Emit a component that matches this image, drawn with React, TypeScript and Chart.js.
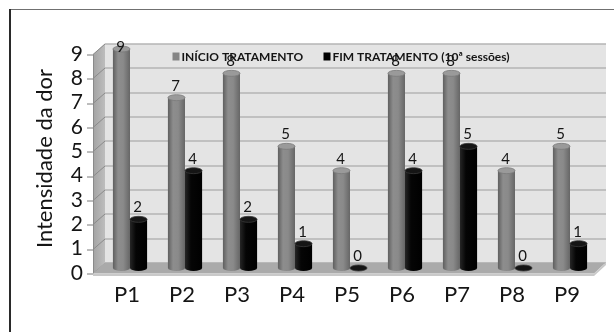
import React, { useEffect, useRef } from "react";
import { Chart, registerables } from "chart.js";

Chart.register(...registerables);

// Pain scores per patient, before and after treatment
const categories = ["P1", "P2", "P3", "P4", "P5", "P6", "P7", "P8", "P9"];
const inicioTratamento = [9, 7, 8, 5, 4, 8, 8, 4, 5];
const fimTratamento = [2, 4, 2, 1, 0, 4, 5, 0, 1];
const seriesNames = ["INÍCIO TRATAMENTO", "FIM TRATAMENTO (10ª sessões)"];
const yMin = 0;
const yMax = 9;

const FONT = "Lato, 'Open Sans', sans-serif";
const TEXT = "#151515";

// half of the pseudo-3D depth vector (front -> back)
const DX = 6;
const DY = 5.5;

const wallPlugin = {
  id: "wall3d",
  beforeDraw(chart: any) {
    const { ctx, width, height } = chart;
    ctx.save();
    ctx.fillStyle = "#ffffff";
    ctx.fillRect(0, 0, width, height);
    // outer frame
    ctx.fillStyle = "#707070";
    ctx.fillRect(9, 9, width - 9, 1);
    ctx.fillStyle = "#2a2a2a";
    ctx.fillRect(9, 9, 2, height - 9);
    ctx.restore();
  },
  beforeDatasetsDraw(chart: any) {
    const { ctx, chartArea } = chart;
    const y = chart.scales.y;
    const left = chartArea.left - 3.5;
    const right = chartArea.right + 2.5;
    const yTop = y.getPixelForValue(yMax);
    const yBot = y.getPixelForValue(yMin);
    ctx.save();

    // back wall
    ctx.fillStyle = "#e4e4e4";
    ctx.fillRect(left + DX, yTop - DY, right - left, yBot - yTop);

    // left side wall
    const sideGrad = ctx.createLinearGradient(left - DX, 0, left + DX, 0);
    sideGrad.addColorStop(0, "#a3a3a3");
    sideGrad.addColorStop(1, "#bdbdbd");
    ctx.fillStyle = sideGrad;
    ctx.beginPath();
    ctx.moveTo(left - DX, yTop + DY);
    ctx.lineTo(left + DX, yTop - DY);
    ctx.lineTo(left + DX, yBot - DY);
    ctx.lineTo(left - DX, yBot + DY);
    ctx.closePath();
    ctx.fill();

    // gridlines on back and side walls, tick marks at the front edge
    for (let v = yMin; v <= yMax; v++) {
      const py = Math.round(y.getPixelForValue(v));
      ctx.strokeStyle = "#9c9c9c";
      ctx.lineWidth = 1;
      ctx.beginPath();
      ctx.moveTo(left + DX, py - DY + 0.5);
      ctx.lineTo(right + DX, py - DY + 0.5);
      ctx.stroke();
      ctx.strokeStyle = "#8a8a8a";
      ctx.beginPath();
      ctx.moveTo(left - DX, py + DY);
      ctx.lineTo(left + DX, py - DY + 0.5);
      ctx.stroke();
      ctx.strokeStyle = "#7a7a7a";
      ctx.beginPath();
      ctx.moveTo(left - DX - 6, py + DY + 0.5);
      ctx.lineTo(left - DX, py + DY + 0.5);
      ctx.stroke();
    }
    // front edge of side wall
    ctx.strokeStyle = "#8a8a8a";
    ctx.beginPath();
    ctx.moveTo(left - DX + 0.5, yTop + DY);
    ctx.lineTo(left - DX + 0.5, yBot + DY);
    ctx.stroke();

    // floor slab
    ctx.fillStyle = "#aaaaaa";
    ctx.beginPath();
    ctx.moveTo(left - DX, yBot + DY);
    ctx.lineTo(left + DX, yBot - DY);
    ctx.lineTo(right + DX, yBot - DY);
    ctx.lineTo(right - DX, yBot + DY);
    ctx.closePath();
    ctx.fill();
    ctx.fillStyle = "#c9c9c9";
    ctx.beginPath();
    ctx.moveTo(left - DX, yBot + DY);
    ctx.lineTo(right - DX, yBot + DY);
    ctx.lineTo(right + DX, yBot - DY);
    ctx.lineTo(right + DX, yBot - DY + 2.5);
    ctx.lineTo(right - DX, yBot + DY + 2.5);
    ctx.lineTo(left - DX, yBot + DY + 2.5);
    ctx.closePath();
    ctx.fill();

    // legend on the back wall
    const legendY = yTop - DY + 13;
    const items = [
      { x: chartArea.left + 70, color: "#858585", text: seriesNames[0] },
      { x: chartArea.left + 221, color: "#000000", text: seriesNames[1] },
    ];
    ctx.font = `bold 12px ${FONT}`;
    ctx.textBaseline = "middle";
    ctx.textAlign = "left";
    items.forEach((it) => {
      ctx.fillStyle = it.color;
      ctx.fillRect(it.x, legendY - 4, 7, 8);
      ctx.fillStyle = TEXT;
      ctx.fillText(it.text, it.x + 9, legendY + 0.5);
    });
    ctx.restore();
  },
  afterDatasetsDraw(chart: any) {
    const { ctx, chartArea } = chart;
    ctx.save();
    chart.data.datasets.forEach((ds: any, di: number) => {
      const meta = chart.getDatasetMeta(di);
      const dark = di === 1;
      meta.data.forEach((el: any, i: number) => {
        const { x, y, base, width } = el.getProps(["x", "y", "base", "width"], true);
        const rx = width / 2;
        const ry = 3;
        const l = x - rx;
        const g = ctx.createLinearGradient(l, 0, l + width, 0);
        if (dark) {
          g.addColorStop(0, "#262626");
          g.addColorStop(0.35, "#050505");
          g.addColorStop(1, "#000000");
        } else {
          g.addColorStop(0, "#5f5f5f");
          g.addColorStop(0.3, "#8d8d8d");
          g.addColorStop(0.6, "#8a8a8a");
          g.addColorStop(1, "#666666");
        }
        ctx.fillStyle = g;
        if (base - y > 0.5) {
          ctx.fillRect(l, y, width, base - y);
          ctx.beginPath();
          ctx.ellipse(x, base, rx, ry, 0, 0, Math.PI);
          ctx.fill();
        }
        ctx.beginPath();
        ctx.ellipse(x, y, rx, ry, 0, 0, Math.PI * 2);
        ctx.fillStyle = dark ? "#151515" : "#9a9a9a";
        ctx.fill();
        ctx.strokeStyle = dark ? "#3a3a3a" : "#7a7a7a";
        ctx.lineWidth = 0.8;
        ctx.stroke();

        // value label above the bar
        const v = ds.data[i];
        const ly = Math.max(y - 12, chartArea.top - 2);
        ctx.font = `15px ${FONT}`;
        ctx.fillStyle = TEXT;
        ctx.textAlign = "center";
        ctx.textBaseline = "middle";
        ctx.fillText(String(v), x - 1, ly);
      });
    });
    ctx.restore();
  },
};

export default function App() {
  const canvasRef = useRef<HTMLCanvasElement | null>(null);

  useEffect(() => {
    if (!canvasRef.current) return;
    const chart = new Chart(canvasRef.current, {
      type: "bar",
      data: {
        labels: categories,
        datasets: [
          {
            label: seriesNames[0],
            data: inicioTratamento,
            backgroundColor: "#858585",
            categoryPercentage: 0.62,
            barPercentage: 1,
          },
          {
            label: seriesNames[1],
            data: fimTratamento,
            backgroundColor: "#000000",
            categoryPercentage: 0.62,
            barPercentage: 1,
          },
        ],
      },
      options: {
        responsive: false,
        animation: false,
        devicePixelRatio: 1,
        layout: { padding: { left: 32, top: 49, right: 16.5, bottom: 0 } },
        plugins: {
          legend: { display: false },
          tooltip: { enabled: false },
        },
        scales: {
          x: {
            grid: { display: false, drawTicks: false },
            border: { display: false },
            ticks: {
              color: TEXT,
              font: { family: FONT, size: 22 },
              padding: 14,
              labelOffset: -3,
            },
            afterFit: (scale: any) => {
              scale.height = 64;
            },
          },
          y: {
            min: yMin,
            max: yMax,
            grid: { display: false, drawTicks: false },
            border: { display: false },
            ticks: {
              stepSize: 1,
              autoSkip: false,
              color: TEXT,
              font: { family: FONT, size: 21 },
              padding: 19.5,
              labelOffset: 5,
            },
            title: {
              display: true,
              text: "Intensidade da dor",
              color: TEXT,
              font: { family: FONT, size: 22 },
              padding: 0,
            },
            afterFit: (scale: any) => {
              scale.width = 70.5;
            },
          },
        },
      },
      plugins: [wallPlugin],
    });
    return () => chart.destroy();
  }, []);

  return (
    <div style={{ position: "fixed", left: 0, top: 0, width: 614, height: 332 }}>
      <canvas ref={canvasRef} width={614} height={332} style={{ display: "block" }} />
    </div>
  );
}
